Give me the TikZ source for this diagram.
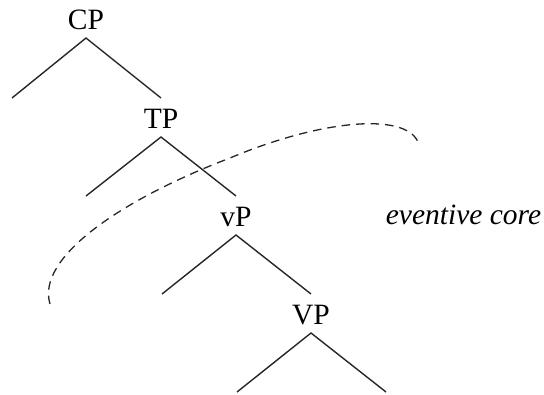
\documentclass[tikz,border=0pt]{standalone}
\usepackage{fontspec}
\setmainfont{Liberation Serif}
\begin{document}
\begin{tikzpicture}[x=1pt,y=-1pt,
  lab/.style={inner sep=0pt,anchor=base,font=\fontsize{29.5}{31}\selectfont},
  branch/.style={line width=1.4pt,black!85},
  core/.style={line width=1.3pt,black!85,dash pattern=on 8.5pt off 6pt}]
\useasboundingbox (0,0) rectangle (544,394);
% labels
\node[lab] (cp) at (86,29) {CP};
\node[lab] (tp) at (161,128) {TP};
\node[lab] (vp) at (236,226) {vP};
\node[lab] (VP) at (311,324) {VP};
\node[lab,font=\fontsize{29.5}{31}\selectfont\itshape] (ev) at (463.5,224) {eventive core};
% apexes and leaves
\coordinate (cpa) at (86,38);
\coordinate (cpl) at (12,98);
\coordinate (cpr) at (161,98);
\coordinate (tpa) at (161,137);
\coordinate (tpl) at (86,196);
\coordinate (tpr) at (236,196);
\coordinate (vpa) at (236,235);
\coordinate (vpl) at (162,294);
\coordinate (vpr) at (311,294);
\coordinate (VPa) at (311,333);
\coordinate (VPl) at (237,392);
\coordinate (VPr) at (386,392);
\draw[branch] (cpl) -- (cpa) -- (cpr);
\draw[branch] (tpl) -- (tpa) -- (tpr);
\draw[branch] (vpl) -- (vpa) -- (vpr);
\draw[branch] (VPl) -- (VPa) -- (VPr);
% dashed curve
\coordinate (c0) at (50,304);
\coordinate (c1) at (230,158);
\coordinate (c2) at (418,142);
\draw[core] (c0) .. controls (36,258) and (120,200) .. (c1)
  .. controls (320,120) and (405,112) .. (c2);
\end{tikzpicture}
\end{document}
